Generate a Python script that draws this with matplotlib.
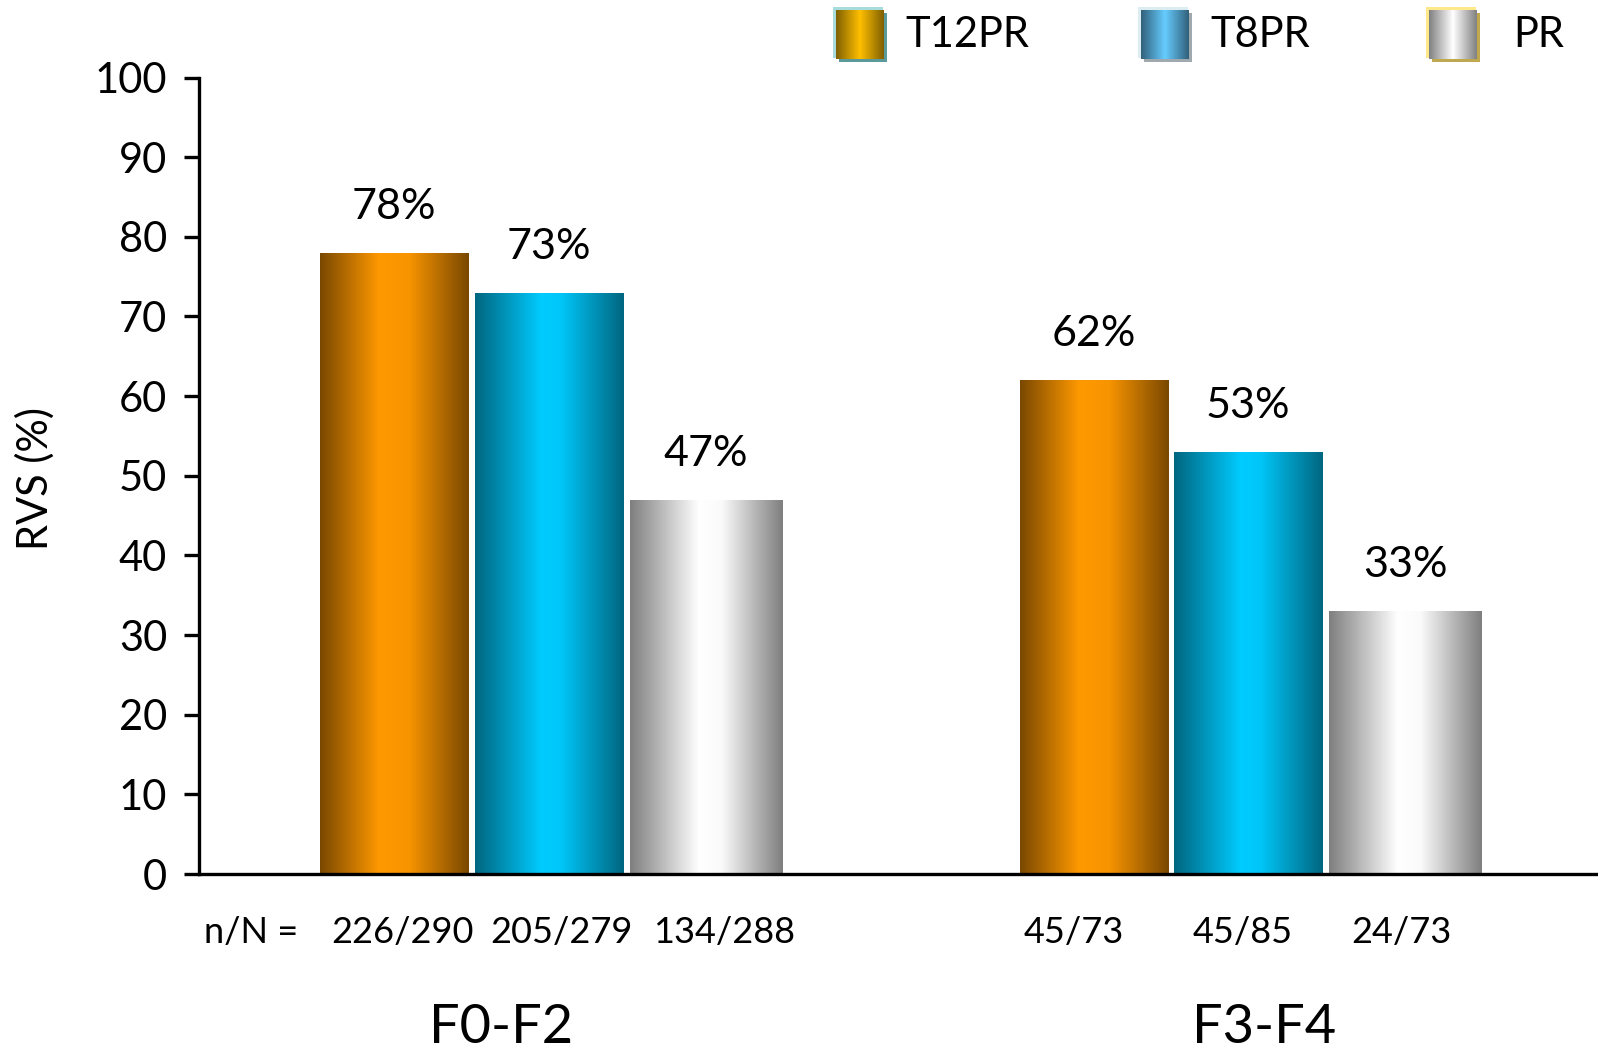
import numpy as np
import matplotlib
matplotlib.use("Agg")
import matplotlib.pyplot as plt
from matplotlib.colors import LinearSegmentedColormap
from matplotlib.patches import Rectangle

# ---- data ----
groups = ["F0-F2", "F3-F4"]
series = ["T12PR", "T8PR", "PR"]
t12pr_rvs = [78, 62]
t8pr_rvs = [73, 53]
pr_rvs = [47, 33]
t12pr_counts = ["226/290", "45/73"]
t8pr_counts = ["205/279", "45/85"]
pr_counts = ["134/288", "24/73"]
yticks = [0, 10, 20, 30, 40, 50, 60, 70, 80, 90, 100]

values = [t12pr_rvs, t8pr_rvs, pr_rvs]
counts = [t12pr_counts, t8pr_counts, pr_counts]

# horizontal shading of the bars (edge -> highlight -> edge)
bar_shades = [
    [(0.0, "#7a4800"), (0.40, "#ff9900"), (0.60, "#f79400"), (1.0, "#7a4800")],
    [(0.0, "#006680"), (0.45, "#00ccff"), (0.58, "#00c6f8"), (1.0, "#006680")],
    [(0.0, "#7f7f7f"), (0.45, "#ffffff"), (0.60, "#fafafa"), (1.0, "#7f7f7f")],
]
legend_shades = [
    [(0.0, "#7f6000"), (0.5, "#ffc000"), (1.0, "#7f6000")],
    [(0.0, "#31607a"), (0.5, "#66ccff"), (1.0, "#31607a")],
    [(0.0, "#808080"), (0.5, "#ffffff"), (1.0, "#808080")],
]
legend_rims = [("#a8dcdc", "#5a9a9a"), ("#dcedf2", "#a0a8b0"), ("#ffe88a", "#c0a850")]

# horizontal nudges (points) of the n/N labels, per series and group
count_nudge = [[6, -14], [9, -4], [13, -3]]

W, H, DPI = 1598, 1052, 100
plt.rcParams["font.family"] = ["Lato", "DejaVu Sans"]

fig = plt.figure(figsize=(W / DPI, H / DPI), dpi=DPI)
ax = fig.add_axes([199 / W, 1 - 874 / H, 1 - 199 / W, (874 - 77.5) / H])


def shade_strip(stops, n=256):
    cmap = LinearSegmentedColormap.from_list("s", stops)
    return cmap(np.linspace(0, 1, n))[None, :, :]


group_centers = np.array([0.25, 0.75])
step = 0.1105
widths = [0.106, 0.106, 0.109]

for i, (vals, stops) in enumerate(zip(values, bar_shades)):
    xs = group_centers + (i - 1) * step + (0.002 if i == 2 else 0.0)
    bars = ax.bar(xs, vals, width=widths[i], facecolor="none", edgecolor="none", zorder=2)
    strip = shade_strip(stops)
    for j, (b, v, c) in enumerate(zip(bars, vals, counts[i])):
        x0, w, h = b.get_x(), b.get_width(), b.get_height()
        im = ax.imshow(strip, extent=[x0, x0 + w, 0, h], aspect="auto",
                       interpolation="bilinear", zorder=2)
        im.set_clip_path(b)
        ax.annotate(f"{v}%", (x0 + w / 2, h), xytext=(0, 33), textcoords="offset points",
                    ha="center", va="center", fontsize=31)
        ax.annotate(c, (x0 + w / 2, -0.073), xycoords=ax.get_xaxis_transform(),
                    xytext=(count_nudge[i][j], 0), textcoords="offset points",
                    ha="center", va="center", fontsize=26)

ax.text(0.0036, -0.073, "n/N =", transform=ax.transAxes, ha="left", va="center", fontsize=26)
for gx, g in zip([0.216, 0.761], groups):
    ax.text(gx, -0.193, g, transform=ax.transAxes, ha="center", va="center", fontsize=39)

ax.set_xlim(0, 1)
ax.set_ylim(0, 100)
ax.set_yticks(yticks)
ax.set_xticks([])
for s in ["top", "right"]:
    ax.spines[s].set_visible(False)
ax.spines["left"].set_linewidth(2.4)
ax.spines["bottom"].set_linewidth(2.4)
ax.tick_params(axis="y", length=11, width=2.4, pad=12, labelsize=30)

fig.text(35 / W, 1 - 479 / H, "RVS (%)", rotation=90, ha="center", va="center", fontsize=30)

# legend swatches along the top
legend_boxes = [(836, 905), (1141, 1210), (1429, 1513)]
bw, bh, by = 48, 49, 10
for (bx, tx), name, stops, (rim_lo, rim_hi) in zip(legend_boxes, series, legend_shades, legend_rims):
    fig.patches.append(Rectangle(((bx - 3) / W, 1 - (by + bh - 1) / H), (bw + 2) / W, (bh + 2) / H,
                                 transform=fig.transFigure, facecolor=rim_lo, edgecolor="none", zorder=1))
    fig.patches.append(Rectangle(((bx + 3) / W, 1 - (by + bh + 3) / H), bw / W, bh / H,
                                 transform=fig.transFigure, facecolor=rim_hi, edgecolor="none", zorder=1))
    sax = fig.add_axes([bx / W, 1 - (by + bh) / H, bw / W, bh / H], zorder=3)
    sax.imshow(shade_strip(stops), aspect="auto", interpolation="bilinear")
    sax.set_axis_off()
    fig.text(tx / W, 1 - 35 / H, name, ha="left", va="center", fontsize=30)

fig.savefig("out.png", dpi=DPI)
